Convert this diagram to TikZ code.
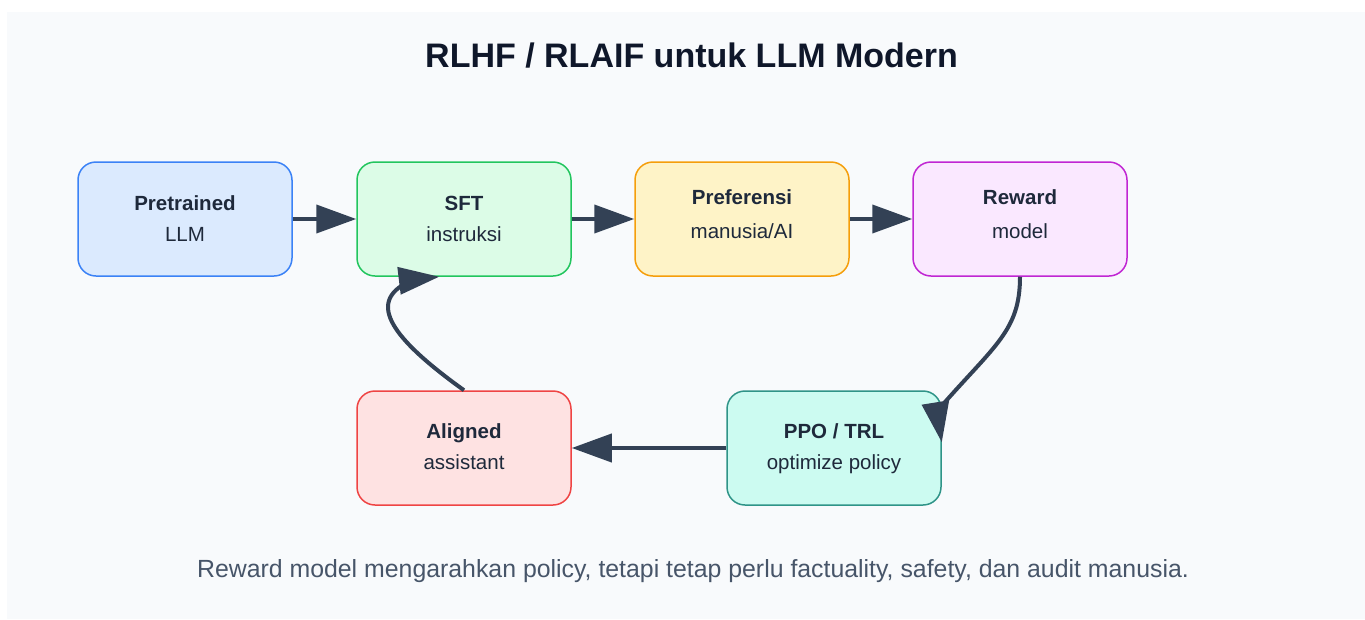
\documentclass[tikz,border=0pt]{standalone}
\usepackage{fontspec}
\setmainfont{Liberation Sans}
\usetikzlibrary{arrows.meta,calc}

\definecolor{panelbg}{HTML}{F8FAFC}
\definecolor{titlecol}{HTML}{0F172A}
\definecolor{textcol}{HTML}{1E293B}
\definecolor{notecol}{HTML}{475569}
\definecolor{arrowcol}{HTML}{334155}
\definecolor{blueF}{HTML}{DBEAFE}\definecolor{blueD}{HTML}{3B82F6}
\definecolor{greenF}{HTML}{DCFCE7}\definecolor{greenD}{HTML}{22C55E}
\definecolor{amberF}{HTML}{FEF3C7}\definecolor{amberD}{HTML}{F59E0B}
\definecolor{pinkF}{HTML}{FAE8FF}\definecolor{pinkD}{HTML}{C026D3}
\definecolor{redF}{HTML}{FEE2E2}\definecolor{redD}{HTML}{EF4444}
\definecolor{tealF}{HTML}{CCFBF1}\definecolor{tealD}{HTML}{2F9488}

\tikzset{
  stagebox/.style={rounded corners=18pt, line width=1.5pt,
    minimum width=214pt, minimum height=114pt, inner sep=0pt},
  headtext/.style={anchor=base, inner sep=0pt, text=textcol,
    font=\fontsize{20.5}{24}\selectfont\bfseries},
  subtext/.style={anchor=base, inner sep=0pt, text=textcol,
    font=\fontsize{20.5}{24}\selectfont},
  flow/.style={draw=arrowcol, line width=4pt,
    -{Triangle[length=40pt,width=28pt]}},
  flowline/.style={draw=arrowcol, line width=4pt},
  flowhead/.style={fill=arrowcol},
}

\begin{document}
\begin{tikzpicture}[x=1pt, y=-1pt]
  \useasboundingbox (0,0) rectangle (1365,619);
  \fill[white] (0,0) rectangle (1365,619);
  \fill[panelbg] (7,12) rectangle (1365,619);

  % title and footnote
  \node[anchor=base, inner sep=0pt, text=titlecol,
        font=\fontsize{34}{40}\selectfont\bfseries] (title) at (691.5,67)
        {RLHF / RLAIF untuk LLM Modern};
  \node[anchor=base, inner sep=0pt, text=notecol,
        font=\fontsize{24.85}{29}\selectfont] (note) at (693,577)
        {Reward model mengarahkan policy, tetapi tetap perlu factuality, safety, dan audit manusia.};

  % stages
  \node[stagebox, fill=blueF,  draw=blueD]  (pre)  at (185,219) {};
  \node[stagebox, fill=greenF, draw=greenD] (sft)  at (464,219) {};
  \node[stagebox, fill=amberF, draw=amberD] (pref) at (742,219) {};
  \node[stagebox, fill=pinkF,  draw=pinkD]  (rew)  at (1020,219) {};
  \node[stagebox, fill=redF,   draw=redD]   (ali)  at (464,448) {};
  \node[stagebox, fill=tealF,  draw=tealD]  (ppo)  at (834,448) {};

  \node[headtext] (preH)  at (185,210)   {Pretrained};
  \node[subtext]  (preS)  at (185,241)   {LLM};
  \node[headtext] (sftH)  at (464,210)   {SFT};
  \node[subtext]  (sftS)  at (464,241)   {instruksi};
  \node[headtext] (prefH) at (742,204)   {Preferensi};
  \node[subtext]  (prefS) at (742,238.5) {manusia/AI};
  \node[headtext] (rewH)  at (1020,204)  {Reward};
  \node[subtext]  (rewS)  at (1020,238.5){model};
  \node[headtext] (aliH)  at (464,438)   {Aligned};
  \node[subtext]  (aliS)  at (464,469)   {assistant};
  \node[headtext] (ppoH)  at (834,438)   {PPO / TRL};
  \node[subtext]  (ppoS)  at (834,469)   {optimize policy};

  % straight connectors
  \draw[flow] (pre.east) -- (sft.west);
  \draw[flow] (sft.east) -- (pref.west);
  \draw[flow] (pref.east) -- (rew.west);
  \draw[flow] (ppo.west) -- (ali.east);

  % curved connectors: the line runs under a separately drawn head
  \coordinate (ppoIn) at ([yshift=6pt]ppo.east);
  \coordinate (sftIn) at ([xshift=-25pt]sft.south);

  \draw[flowline] (rew.south) .. controls +(0,54) and +(55,-63) .. ($(ppoIn)+(-2,-34)$);
  \fill[flowhead] (ppoIn) -- ++(7.4,-41.7) -- ++(-27.6,4.4) -- cycle;

  \draw[flowline] (ali.north) .. controls +(-64,-46) and +(-40,22) .. ($(sftIn)+(-34,7)$);
  \fill[flowhead] (sftIn) -- ++(-38.3,17.9) -- ++(-3.4,-27.8) -- cycle;
\end{tikzpicture}
\end{document}
